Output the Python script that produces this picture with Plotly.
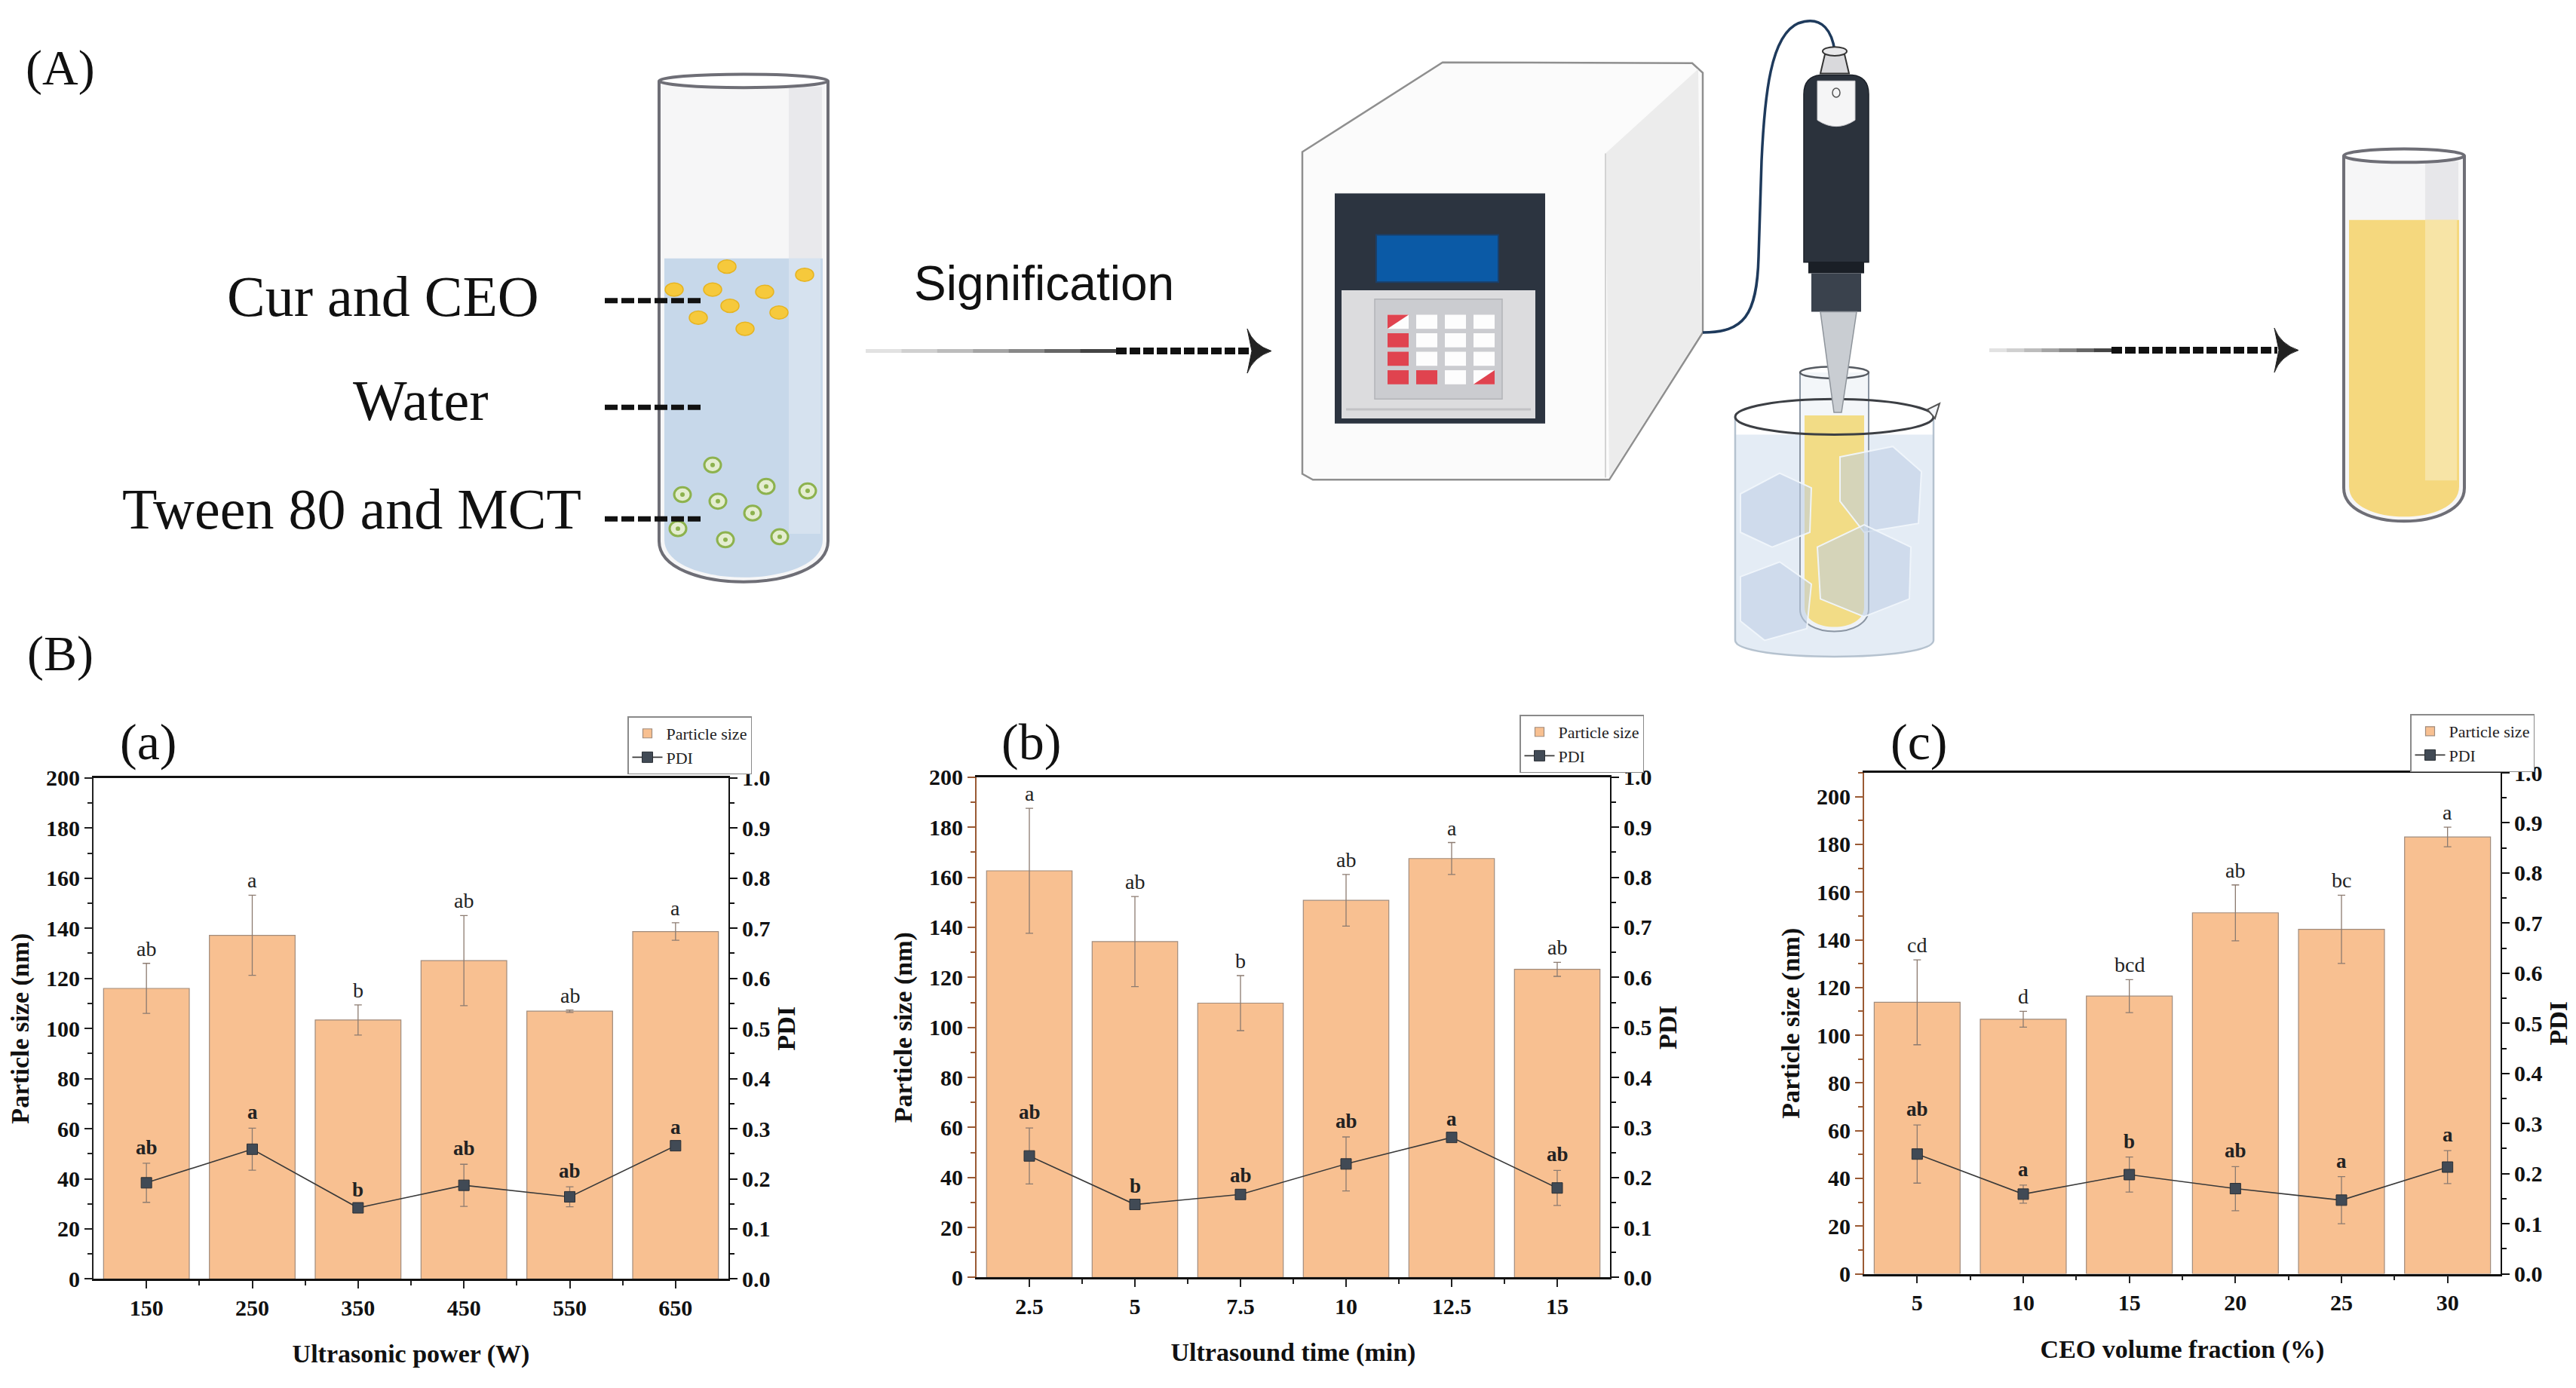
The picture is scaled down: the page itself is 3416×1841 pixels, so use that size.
import plotly.graph_objects as go

W, H = 3416, 1841

# ---- data ----
power_lbl = ['150', '250', '350', '450', '550', '650']
size_a = [116, 137.2, 103.4, 127.1, 106.9, 138.7]
size_a_err = [10, 16, 6, 18, 0.5, 3.5]
pdi_a = [0.192, 0.259, 0.142, 0.187, 0.164, 0.266]
pdi_a_err = [0.039, 0.042, 0.004, 0.042, 0.02, 0.005]
let_size_a = ['ab', 'a', 'b', 'ab', 'ab', 'a']
let_pdi_a = ['ab', 'a', 'b', 'ab', 'ab', 'a']

time_lbl = ['2.5', '5', '7.5', '10', '12.5', '15']
size_b = [162.6, 134.3, 109.7, 150.8, 167.5, 123.2]
size_b_err = [25, 18, 11, 10.3, 6.4, 2.8]
pdi_b = [0.243, 0.146, 0.166, 0.227, 0.28, 0.179]
pdi_b_err = [0.056, 0.005, 0.007, 0.054, 0.005, 0.035]
let_size_b = ['a', 'ab', 'b', 'ab', 'a', 'ab']
let_pdi_b = ['ab', 'b', 'ab', 'ab', 'a', 'ab']

ceo_lbl = ['5', '10', '15', '20', '25', '30']
size_c = [113.8, 106.7, 116.4, 151.3, 144.4, 183.1]
size_c_err = [17.8, 3.3, 6.9, 11.7, 14.3, 4.1]
pdi_c = [0.239, 0.159, 0.198, 0.170, 0.147, 0.213]
pdi_c_err = [0.058, 0.018, 0.035, 0.044, 0.047, 0.033]
let_size_c = ['cd', 'd', 'bcd', 'ab', 'bc', 'a']
let_pdi_c = ['ab', 'a', 'b', 'ab', 'a', 'a']

SERIF = 'Liberation Serif'
BAR = '#F8C091'
ERR = '#8c7b70'


def px(x):
    return x / W


def py(y):
    return 1 - y / H


fig = go.Figure()
annotations = []
shapes = []


def label(x, y, text, size, family=SERIF, weight='normal'):
    # free text placed on the page (pixel position of its centre)
    annotations.append(dict(x=px(x), y=py(y), xref='paper', yref='paper', text=text,
                            showarrow=False, xanchor='center', yanchor='middle',
                            font=dict(family=family, size=size, color='#111', weight=weight)))


panels = [
    dict(lbl=power_lbl, size=size_a, serr=size_a_err, pdi=pdi_a, perr=pdi_a_err,
         ls=let_size_a, lp=let_pdi_a, xt='Ultrasonic power (W)', tag='(a)',
         box=(124, 966, 1034, 1711), ymax=200, leg=(832, 951), lc='#222222'),
    dict(lbl=time_lbl, size=size_b, serr=size_b_err, pdi=pdi_b, perr=pdi_b_err,
         ls=let_size_b, lp=let_pdi_b, xt='Ultrasound time (min)', tag='(b)',
         box=(1295, 2135, 1033, 1709), ymax=200, leg=(2015, 949), lc='#9a5a34'),
    dict(lbl=ceo_lbl, size=size_c, serr=size_c_err, pdi=pdi_c, perr=pdi_c_err,
         ls=let_size_c, lp=let_pdi_c, xt='CEO volume fraction (%)', tag='(c)',
         box=(2472, 3316, 1027, 1704), ymax=210, leg=(3196, 948), lc='#9a5a34'),
]

layout_axes = {}
for k, p in enumerate(panels):
    xa = 'x' if k == 0 else f'x{k + 1}'
    ya = 'y' if k == 0 else f'y{2 * k + 1}'
    yb = f'y{2 * k + 2}'
    leg = 'legend' if k == 0 else f'legend{k + 1}'
    idx = list(range(len(p['lbl'])))

    fig.add_trace(go.Bar(
        x=idx, y=p['size'], width=0.81, name='Particle size',
        marker=dict(color=BAR, line=dict(color='#a08b7c', width=1.2)),
        error_y=dict(type='data', array=p['serr'], color=ERR, thickness=1.3, width=5),
        xaxis=xa, yaxis=ya, legend=leg))
    fig.add_trace(go.Scatter(
        x=idx, y=p['pdi'], mode='lines+markers', name='PDI',
        line=dict(color='#3a3a3a', width=1.6),
        marker=dict(symbol='square', size=14, color='#414a55',
                    line=dict(color='#2a2f35', width=1)),
        error_y=dict(type='data', array=p['perr'], color=ERR, thickness=1.3, width=5),
        xaxis=xa, yaxis=yb, legend=leg))

    for i in idx:
        annotations.append(dict(x=i, y=p['size'][i] + p['serr'][i], xref=xa, yref=ya,
                                text=p['ls'][i], showarrow=False, yanchor='bottom', yshift=2,
                                font=dict(family=SERIF, size=28, color='#222')))
        annotations.append(dict(x=i, y=p['pdi'][i] + p['perr'][i], xref=xa, yref=yb,
                                text=p['lp'][i], showarrow=False, yanchor='bottom', yshift=4,
                                font=dict(family=SERIF, size=27, color='#222', weight='bold')))

    x0, x1, y0, y1 = p['box']
    tickf = dict(family=SERIF, size=30, color='#111', weight='bold')
    titf = dict(family=SERIF, size=34, color='#111', weight='bold')
    xkey = 'xaxis' if k == 0 else f'xaxis{k + 1}'
    ykey = 'yaxis' if k == 0 else f'yaxis{2 * k + 1}'
    y2key = f'yaxis{2 * k + 2}'
    layout_axes[xkey] = dict(
        domain=[px(x0), px(x1)], anchor=ya, range=[-0.5, len(idx) - 0.5],
        tickmode='array', tickvals=idx, ticktext=p['lbl'], ticks='outside', ticklen=10,
        tickwidth=2, tickcolor='#222', showline=True, linecolor='#111', linewidth=2.5,
        mirror=True, showgrid=False, zeroline=False, tickfont=tickf,
        title=dict(text=p['xt'], font=titf, standoff=34),
        minor=dict(tickmode='array', tickvals=[i + 0.5 for i in idx[:-1]],
                   ticks='outside', ticklen=6, tickwidth=2, tickcolor='#222'))
    layout_axes[ykey] = dict(
        domain=[py(y1), py(y0)], anchor=xa, range=[0, p['ymax']], dtick=20, tick0=0,
        ticks='outside', ticklen=10, tickwidth=2, tickcolor=p['lc'], showline=True,
        linecolor=p['lc'], linewidth=2, showgrid=False, zeroline=False, tickfont=tickf,
        title=dict(text='Particle size (nm)', font=titf, standoff=12),
        minor=dict(dtick=10, ticks='outside', ticklen=6, tickwidth=2, tickcolor=p['lc']))
    layout_axes[y2key] = dict(
        overlaying=ya, side='right', anchor=xa, range=[0, 1], dtick=0.1, tick0=0,
        tickformat='.1f', ticks='outside', ticklen=10, tickwidth=2, tickcolor='#111',
        showline=True, linecolor='#111', linewidth=2, showgrid=False, zeroline=False,
        tickfont=tickf, title=dict(text='PDI', font=titf, standoff=10),
        minor=dict(dtick=0.05, ticks='outside', ticklen=6, tickwidth=2, tickcolor='#111'))
    lx, ly = p['leg']
    layout_axes[leg] = dict(
        x=px(lx), y=py(ly), xanchor='left', yanchor='top', bgcolor='white',
        bordercolor='#8a8a8a', borderwidth=1.5, tracegroupgap=0, itemwidth=40,
        font=dict(family=SERIF, size=22, color='#222'))
    label(x0 + 72, 985, p['tag'], 68)


# ---------------- illustration (A) ----------------
def fmt(pts):
    return ' '.join(f'{px(x):.5f},{py(y):.5f}' for x, y in pts)


def path(cmds, fill='rgba(0,0,0,0)', line='rgba(0,0,0,0)', lw=0, dash=None):
    d = ' '.join(c[0] + ' ' + fmt(c[1:]) if len(c) > 1 else c[0] for c in cmds)
    ln = dict(color=line, width=lw)
    if dash:
        ln['dash'] = dash
    shapes.append(dict(type='path', xref='paper', yref='paper', path=d,
                       fillcolor=fill, line=ln))


def poly(pts, fill, line='rgba(0,0,0,0)', lw=0):
    path([('M', pts[0])] + [('L', q) for q in pts[1:]] + [('Z',)], fill, line, lw)


def rect(x0, y0, x1, y1, fill, line='rgba(0,0,0,0)', lw=0):
    shapes.append(dict(type='rect', xref='paper', yref='paper', x0=px(x0), x1=px(x1),
                       y0=py(y1), y1=py(y0), fillcolor=fill, line=dict(color=line, width=lw)))


def ell(cx, cy, rx, ry, fill, line='rgba(0,0,0,0)', lw=0):
    shapes.append(dict(type='circle', xref='paper', yref='paper', x0=px(cx - rx), x1=px(cx + rx),
                       y0=py(cy + ry), y1=py(cy - ry), fillcolor=fill,
                       line=dict(color=line, width=lw)))


def seg(xa, ya, xb, yb, color, lw, dash=None):
    ln = dict(color=color, width=lw)
    if dash:
        ln['dash'] = dash
    shapes.append(dict(type='line', xref='paper', yref='paper', x0=px(xa), y0=py(ya),
                       x1=px(xb), y1=py(yb), line=ln))


def u_shape(x0, x1, ytop, ybot, d):
    return [('M', (x0, ytop)), ('L', (x0, ybot - d)),
            ('C', (x0, ybot + d * 0.33), (x1, ybot + d * 0.33), (x1, ybot - d)),
            ('L', (x1, ytop))]


def tube(x0, x1, ytop, ybot, d, liq_top, liq, stripe_dry, stripe_wet, outline='#6e6e76'):
    path(u_shape(x0, x1, ytop, ybot, d) + [('Z',)], fill='#f6f6f7')
    rect(x1 - 52, ytop + 8, x1 - 8, liq_top, stripe_dry)
    path(u_shape(x0 + 7, x1 - 7, liq_top, ybot - 6, d - 4) + [('Z',)], fill=liq)
    rect(x1 - 52, liq_top, x1 - 10, ybot - d - 10, stripe_wet)
    path(u_shape(x0, x1, ytop, ybot, d), line=outline, lw=4)
    ell((x0 + x1) / 2, ytop, (x1 - x0) / 2, 9, 'rgba(255,255,255,0.9)', outline, 4)


def arrow(xs, xd, xe, y):
    greys = ['#e2e2e2', '#d0d0d0', '#bcbcbc', '#a4a4a4', '#888888', '#666666', '#444444']
    step = (xd - xs) / len(greys)
    for j, g in enumerate(greys):
        seg(xs + j * step, y, xs + (j + 1) * step + 1, y, g, 5)
    seg(xd, y, xe - 14, y, '#111', 9, dash='14px,4px')
    path([('M', (xe - 18, y - 30)), ('Q', (xe - 10, y - 8), (xe + 14, y)),
          ('Q', (xe - 10, y + 8), (xe - 18, y + 30)), ('L', (xe - 12, y)), ('Z',)],
         fill='#222', line='#222', lw=1)


# first tube
tube(874, 1098, 92, 769, 55, 332, '#c7d8ea', '#e9e9ec', '#d6e2ef')
for cx, cy in [(964, 343), (1067, 354), (894, 374), (945, 374), (1014, 377),
               (968, 396), (1033, 405), (926, 412), (988, 427)]:
    ell(cx, cy, 12, 9, '#f6c93c', '#e6b422', 1.5)
for cx, cy in [(945, 611), (1016, 640), (1071, 646), (905, 651), (952, 660),
               (998, 676), (899, 697), (962, 712), (1034, 708)]:
    ell(cx, cy, 11, 10, '#e4edd0', '#8db24e', 3)
    ell(cx, cy, 3, 3, '#8db24e')

for yy in (389, 533, 684):
    seg(802, yy, 933, yy, '#111', 7, dash='17px,5px')

label(508, 383, 'Cur and CEO', 76)
label(558, 524, 'Water', 76)
label(466, 670, 'Tween 80 and MCT', 76)
label(1384, 366, 'Signification', 64, family='Liberation Sans')
label(80, 74, '(A)', 66)
label(80, 866, '(B)', 66)

arrow(1148, 1480, 1672, 457)
arrow(2638, 2800, 3034, 456)

# sonicator
poly([(1727, 188), (1913, 67), (2244, 68), (2258, 81), (2258, 432), (2134, 631),
      (1741, 631), (1727, 623)], '#fbfbfb', '#8f8f8f', 2.5)
poly([(2129, 190), (2252, 76), (2256, 432), (2134, 628)], '#ececec')
seg(2129, 190, 2129, 628, '#d3d3d3', 2)
rect(1770, 244, 2049, 555, '#2c3440')
rect(1825, 300, 1987, 364, '#0b5aa6', '#1b3f68', 2)
rect(1779, 375, 2036, 548, '#dcdcde')
rect(1823, 387, 1992, 522, '#cbccd0', '#b3b4b8', 1.5)
seg(1785, 536, 2030, 536, '#c2c2c5', 3)
keys = [['s', 'w', 'w', 'w'], ['r', 'w', 'w', 'w'], ['r', 'w', 'w', 'w'], ['r', 'r', 'w', 't']]
for r, row in enumerate(keys):
    for c, kind in enumerate(row):
        kx, ky = 1840 + c * 38, 408 + r * 25
        if kind == 'r':
            rect(kx, ky, kx + 28, ky + 19, '#e0434f')
        elif kind == 'w':
            rect(kx, ky, kx + 28, ky + 19, '#fdfdfd')
        elif kind == 's':
            rect(kx, ky, kx + 28, ky + 19, '#fdfdfd')
            poly([(kx, ky), (kx + 28, ky), (kx, ky + 19)], '#e0434f')
        else:
            rect(kx, ky, kx + 28, ky + 19, '#fdfdfd')
            poly([(kx + 28, ky), (kx + 28, ky + 19), (kx, ky + 19)], '#e0434f')

# cable
path([('M', (2258, 432)), ('C', (2312, 432), (2330, 410), (2332, 330)),
      ('L', (2336, 200)), ('C', (2340, 110), (2348, 30), (2385, 14)),
      ('C', (2418, 2), (2430, 28), (2433, 52))], line='#1e3a5c', lw=3.5)

# beaker with ice
path(u_shape(2301, 2564, 570, 870, 22) + [('Z',)], fill='rgba(205,220,236,0.55)')
path(u_shape(2301, 2564, 546, 870, 22), line='#b5c2cf', lw=2.5)
# inner tube
path(u_shape(2387, 2478, 486, 836, 30) + [('Z',)], fill='rgba(240,244,248,0.8)')
path(u_shape(2393, 2472, 544, 830, 27) + [('Z',)], fill='#f2dc86')
path(u_shape(2387, 2478, 486, 836, 30), line='#8b96a3', lw=2)
for cube in [
    [(2308, 650), (2360, 622), (2402, 642), (2400, 702), (2350, 722), (2308, 702)],
    [(2440, 600), (2510, 586), (2548, 620), (2544, 690), (2472, 702), (2440, 660)],
    [(2410, 722), (2472, 692), (2534, 722), (2532, 792), (2472, 816), (2414, 792)],
    [(2308, 762), (2360, 742), (2402, 772), (2396, 832), (2340, 848), (2308, 822)],
]:
    poly(cube, 'rgba(190,206,228,0.55)', 'rgba(240,245,251,0.95)', 2)
ell(2432.5, 486, 45.5, 8, 'rgba(0,0,0,0)', '#555a61', 2.5)
ell(2432.5, 546, 131.5, 24, 'rgba(0,0,0,0)', '#3c3f44', 3)
poly([(2556, 536), (2572, 528), (2566, 548)], '#f4f6f9', '#555', 2)

# probe
poly([(2420, 56), (2446, 56), (2452, 82), (2414, 82)], '#d9d9dc', '#333', 2)
ell(2433, 52, 16, 6, '#e8e8ea', '#333', 2)
path([('M', (2392, 337)), ('L', (2392, 110)), ('Q', (2392, 86), (2414, 84)),
      ('L', (2456, 84)), ('Q', (2478, 86), (2478, 110)), ('L', (2478, 337)), ('Z',)],
     fill='#2b323c', line='#1b2028', lw=1.5)
path([('M', (2410, 92)), ('L', (2460, 92)), ('L', (2460, 145)), ('Q', (2435, 162), (2410, 145)), ('Z',)],
     fill='#f5f5f6', line='#c8c8cc', lw=1)
ell(2435, 108, 5, 6, 'rgba(0,0,0,0)', '#555', 1.5)
rect(2398, 337, 2472, 352, '#1a1f26')
rect(2402, 352, 2468, 404, '#3a424d')
poly([(2414, 404), (2462, 404), (2442, 540), (2432, 540)], '#c9cdd2', '#8e949b', 1.5)

# final tube
tube(3108, 3268, 193, 687, 45, 280, '#f5d87e', '#e7e7ea', '#f7e4a6')

fig.update_layout(
    width=W, height=H, autosize=False,
    margin=dict(l=0, r=0, t=0, b=0),
    paper_bgcolor='white', plot_bgcolor='white',
    showlegend=True, bargap=0.19,
    annotations=annotations, shapes=shapes,
    font=dict(family=SERIF, color='#111'),
    **layout_axes,
)

fig.write_html("out.html", config={'displayModeBar': False},
               post_script="document.body.style.margin='0';")
